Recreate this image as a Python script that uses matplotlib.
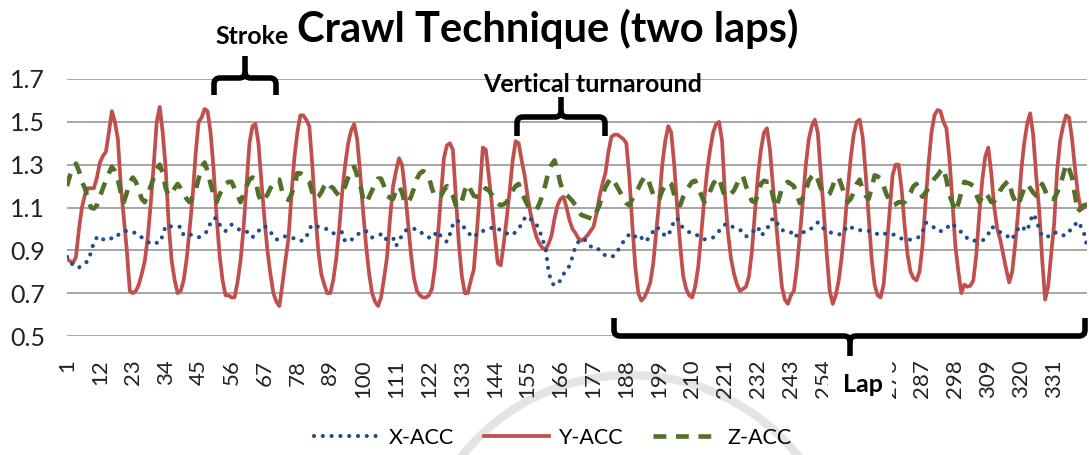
import matplotlib
matplotlib.use("Agg")
import matplotlib.pyplot as plt
from matplotlib.path import Path
from matplotlib.patches import PathPatch, Rectangle, Arc

# sample index (1..342) and tick labels
n_samples = 342
tick_labels = list(range(1, n_samples, 11))

x_acc = [
    0.87, 0.85, 0.83, 0.83, 0.82, 0.83, 0.84, 0.85, 0.89, 0.94,
    0.96, 0.945, 0.95, 0.96, 0.96, 0.955, 0.955, 0.97, 0.985, 0.99,
    0.99, 0.99, 0.985, 0.98, 0.975, 0.96, 0.95, 0.94, 0.93, 0.93,
    0.935, 0.935, 0.97, 1.015, 1.015, 1.01, 1.01, 1.01, 1.01, 0.97,
    0.97, 0.975, 0.97, 0.965, 0.96, 0.97, 0.98, 0.99, 1.03, 1.05,
    1.05, 1.02, 1.01, 0.99, 1.01, 1.02, 1.01, 1.0, 0.995, 0.99,
    0.99, 0.97, 0.96, 0.98, 0.99, 1.005, 1.015, 1.0, 0.985, 0.97,
    0.95, 0.955, 0.965, 0.965, 0.96, 0.96, 0.955, 0.945, 0.945, 0.945,
    0.96, 1.0, 1.02, 1.015, 1.01, 1.005, 1.0, 1.0, 0.99, 0.98,
    0.975, 0.98, 0.985, 0.94, 0.945, 0.95, 0.955, 0.97, 0.985, 0.99,
    0.99, 0.97, 0.96, 0.965, 0.97, 0.975, 0.95, 0.955, 0.96, 0.96,
    0.92, 0.945, 0.97, 0.99, 1.0, 1.0, 1.0, 1.0, 0.99, 0.975,
    0.97, 0.96, 0.955, 0.975, 0.99, 0.965, 0.95, 0.94, 0.975, 1.02,
    1.04, 1.035, 1.025, 1.0, 0.985, 0.97, 0.96, 0.975, 0.99, 0.99,
    0.995, 1.0, 1.005, 1.01, 1.0, 0.995, 0.99, 0.98, 0.97, 0.975,
    0.985, 1.0, 1.025, 1.05, 1.06, 1.045, 1.035, 1.02, 0.99, 0.95,
    0.91, 0.80, 0.75, 0.735, 0.745, 0.76, 0.79, 0.80, 0.83, 0.87,
    0.92, 0.94, 0.955, 0.95, 0.94, 0.92, 0.905, 0.905, 0.905, 0.89,
    0.875, 0.87, 0.87, 0.875, 0.895, 0.92, 0.94, 0.96, 0.975, 0.96,
    0.965, 0.975, 0.96, 0.94, 0.95, 0.965, 0.99, 1.01, 1.0, 0.985,
    0.965, 0.97, 1.0, 1.04, 1.05, 1.02, 1.005, 0.995, 0.985, 0.975,
    0.972, 0.97, 0.96, 0.952, 0.95, 0.955, 0.96, 0.975, 0.99, 1.01,
    1.02, 1.025, 1.015, 1.005, 1.0, 0.995, 0.985, 0.965, 0.97, 0.985,
    0.995, 1.01, 0.97, 0.98, 1.0, 1.025, 1.05, 1.04, 1.01, 0.995,
    0.99, 0.99, 0.985, 0.96, 0.97, 0.985, 0.985, 0.985, 0.99, 1.005,
    1.02, 1.03, 1.025, 1.0, 0.99, 0.985, 0.98, 0.975, 0.975, 0.975,
    0.995, 1.015, 1.01, 1.0, 1.0, 0.995, 0.99, 0.99, 0.99, 0.99,
    0.985, 0.975, 0.97, 0.975, 0.98, 0.98, 0.975, 0.97, 0.96, 0.955,
    0.955, 0.95, 0.95, 0.952, 0.955, 0.965, 0.985, 1.03, 1.025, 1.015,
    1.005, 0.99, 0.99, 0.99, 1.0, 1.02, 1.025, 1.01, 0.995, 0.985,
    0.975, 0.955, 0.945, 0.945, 0.945, 0.945, 0.945, 0.955, 0.975, 1.01,
    1.005, 0.99, 0.985, 0.975, 0.97, 0.96, 0.95, 0.985, 1.0, 1.015,
    1.0, 0.99, 1.035, 1.07, 1.045, 1.0, 0.965, 0.965, 0.965, 0.975,
    0.985, 0.98, 0.97, 0.97, 0.97, 0.985, 1.01, 1.02, 1.035, 1.01,
    0.98, 0.92,
]

y_acc = [
    0.86, 0.85, 0.84, 0.87, 1.00, 1.10, 1.16, 1.19, 1.19, 1.19,
    1.24, 1.31, 1.34, 1.36, 1.45, 1.55, 1.50, 1.42, 1.20, 1.05,
    0.90, 0.71, 0.70, 0.71, 0.74, 0.79, 0.85, 0.96, 1.12, 1.30,
    1.50, 1.57, 1.45, 1.28, 1.02, 0.85, 0.76, 0.70, 0.71, 0.76,
    0.86, 1.00, 1.15, 1.35, 1.50, 1.52, 1.56, 1.55, 1.45, 1.28,
    1.06, 0.88, 0.76, 0.69, 0.69, 0.68, 0.68, 0.75, 0.85, 1.00,
    1.20, 1.40, 1.48, 1.49, 1.40, 1.22, 1.05, 0.90, 0.79, 0.70,
    0.66, 0.64, 0.74, 0.85, 0.95, 1.15, 1.33, 1.45, 1.53, 1.53,
    1.51, 1.48, 1.30, 1.08, 0.90, 0.79, 0.74, 0.70, 0.70, 0.76,
    0.86, 1.00, 1.17, 1.30, 1.40, 1.46, 1.49, 1.42, 1.26, 1.08,
    0.92, 0.79, 0.70, 0.66, 0.64, 0.68, 0.77, 0.87, 1.05, 1.20,
    1.27, 1.33, 1.30, 1.18, 1.03, 0.88, 0.77, 0.71, 0.69, 0.68,
    0.68, 0.69, 0.72, 0.82, 0.97, 1.15, 1.33, 1.39, 1.40, 1.37,
    1.15, 0.93, 0.78, 0.70, 0.70, 0.76, 0.81, 0.98, 1.17, 1.38,
    1.37, 1.25, 1.12, 0.97, 0.84, 0.83, 0.93, 1.05, 1.18, 1.32,
    1.41, 1.40, 1.32, 1.25, 1.15, 1.07, 1.01, 0.96, 0.93, 0.91,
    0.905, 0.93, 0.97, 1.05, 1.11, 1.14, 1.15, 1.10, 1.04, 1.00,
    0.98, 0.955, 0.945, 0.955, 0.97, 0.99, 1.01, 1.07, 1.15, 1.21,
    1.26, 1.36, 1.43, 1.44, 1.44, 1.43, 1.42, 1.40, 1.24, 1.02,
    0.82, 0.70, 0.665, 0.68, 0.71, 0.75, 0.84, 0.99, 1.13, 1.30,
    1.41, 1.48, 1.45, 1.30, 1.10, 0.92, 0.78, 0.72, 0.69, 0.68,
    0.73, 0.82, 0.97, 1.13, 1.27, 1.37, 1.45, 1.49, 1.50, 1.41,
    1.15, 0.98, 0.86, 0.79, 0.74, 0.71, 0.72, 0.73, 0.78, 0.90,
    1.08, 1.25, 1.37, 1.45, 1.47, 1.37, 1.20, 1.04, 0.88, 0.73,
    0.67, 0.65, 0.69, 0.71, 0.82, 0.97, 1.13, 1.30, 1.42, 1.48,
    1.51, 1.45, 1.26, 1.08, 0.88, 0.71, 0.65, 0.69, 0.76, 0.87,
    1.01, 1.18, 1.33, 1.44, 1.50, 1.51, 1.43, 1.26, 1.06, 0.86,
    0.74, 0.69, 0.68, 0.74, 0.90, 1.08, 1.25, 1.30, 1.30, 1.19,
    1.02, 0.88, 0.80, 0.77, 0.76, 0.80, 0.92, 1.12, 1.30, 1.45,
    1.53, 1.555, 1.55, 1.50, 1.47, 1.33, 1.13, 0.92, 0.80, 0.70,
    0.74, 0.73, 0.735, 0.76, 0.88, 1.07, 1.23, 1.34, 1.38, 1.26,
    1.10, 1.00, 0.95, 0.88, 0.81, 0.75, 0.80, 0.93, 1.08, 1.27,
    1.40, 1.49, 1.54, 1.44, 1.25, 1.09, 0.86, 0.67, 0.73, 0.88,
    1.02, 1.27, 1.41, 1.48, 1.53, 1.52, 1.42, 1.28, 1.16, 1.09,
    1.10, 1.11,
]

z_acc = [
    1.20, 1.25, 1.28, 1.305, 1.27, 1.22, 1.19, 1.14, 1.10, 1.095,
    1.11, 1.15, 1.19, 1.225, 1.26, 1.29, 1.27, 1.23, 1.17, 1.125,
    1.17, 1.22, 1.24, 1.22, 1.18, 1.14, 1.125, 1.16, 1.20, 1.24,
    1.28, 1.30, 1.26, 1.19, 1.155, 1.17, 1.19, 1.21, 1.19, 1.165,
    1.14, 1.125, 1.15, 1.18, 1.235, 1.29, 1.31, 1.27, 1.21, 1.16,
    1.125, 1.16, 1.19, 1.21, 1.22, 1.22, 1.19, 1.16, 1.125, 1.16,
    1.20, 1.23, 1.24, 1.235, 1.16, 1.125, 1.14, 1.16, 1.19, 1.21,
    1.23, 1.23, 1.17, 1.15, 1.135, 1.16, 1.20, 1.26, 1.26, 1.25,
    1.235, 1.22, 1.17, 1.14, 1.15, 1.17, 1.20, 1.22, 1.20, 1.19,
    1.17, 1.155, 1.17, 1.20, 1.24, 1.28, 1.29, 1.25, 1.21, 1.14,
    1.12, 1.15, 1.18, 1.21, 1.235, 1.235, 1.20, 1.155, 1.145, 1.14,
    1.18, 1.20, 1.17, 1.12, 1.12, 1.15, 1.19, 1.235, 1.26, 1.27,
    1.26, 1.24, 1.19, 1.15, 1.15, 1.155, 1.18, 1.20, 1.18, 1.155,
    1.11, 1.10, 1.13, 1.18, 1.21, 1.18, 1.155, 1.15, 1.15, 1.17,
    1.19, 1.18, 1.16, 1.14, 1.12, 1.11, 1.115, 1.125, 1.16, 1.18,
    1.20, 1.21, 1.17, 1.14, 1.11, 1.09, 1.085, 1.09, 1.12, 1.16,
    1.21, 1.27, 1.30, 1.32, 1.27, 1.21, 1.175, 1.16, 1.145, 1.13,
    1.11, 1.08, 1.065, 1.06, 1.055, 1.05, 1.045, 1.08, 1.11, 1.16,
    1.195, 1.22, 1.24, 1.22, 1.195, 1.17, 1.14, 1.12, 1.11, 1.14,
    1.165, 1.19, 1.22, 1.24, 1.245, 1.20, 1.16, 1.135, 1.14, 1.18,
    1.20, 1.22, 1.21, 1.16, 1.12, 1.11, 1.15, 1.18, 1.20, 1.22,
    1.225, 1.19, 1.16, 1.125, 1.14, 1.175, 1.21, 1.23, 1.24, 1.19,
    1.15, 1.155, 1.165, 1.18, 1.21, 1.245, 1.245, 1.20, 1.16, 1.13,
    1.125, 1.16, 1.21, 1.225, 1.22, 1.22, 1.15, 1.10, 1.14, 1.19,
    1.21, 1.22, 1.21, 1.20, 1.16, 1.12, 1.145, 1.18, 1.225, 1.245,
    1.26, 1.23, 1.19, 1.17, 1.155, 1.165, 1.20, 1.24, 1.24, 1.20,
    1.16, 1.125, 1.14, 1.17, 1.21, 1.23, 1.18, 1.155, 1.14, 1.19,
    1.25, 1.245, 1.235, 1.20, 1.16, 1.135, 1.11, 1.115, 1.125, 1.125,
    1.125, 1.15, 1.17, 1.20, 1.21, 1.17, 1.15, 1.17, 1.19, 1.21,
    1.235, 1.25, 1.27, 1.285, 1.23, 1.16, 1.12, 1.08, 1.12, 1.17,
    1.22, 1.215, 1.21, 1.20, 1.16, 1.125, 1.15, 1.17, 1.15, 1.125,
    1.13, 1.15, 1.18, 1.20, 1.215, 1.225, 1.16, 1.13, 1.11, 1.15,
    1.19, 1.21, 1.19, 1.17, 1.155, 1.18, 1.21, 1.18, 1.14, 1.14,
    1.14, 1.17, 1.20, 1.25, 1.305, 1.28, 1.24, 1.155, 1.08, 1.10,
    1.11, 1.115,
]

W, H = 1089, 455
plt.rcParams['font.family'] = ['Lato', 'DejaVu Sans']

fig = plt.figure(figsize=(W / 100, H / 100), dpi=100)

# faint watermark arc behind everything
fig.patches.append(Arc((630, H - 590), 430, 430, theta1=20, theta2=160, lw=6,
                       color='#e4e4e4', transform=None, zorder=-5))

ax = fig.add_axes([67 / W, 1 - 336 / H, (1087 - 67) / W, (336 - 79) / H])
ax.patch.set_alpha(0)

idx = list(range(1, n_samples + 1))
ax.plot(idx, x_acc, color='#1f4e8c', lw=3.0, linestyle=(0, (0.01, 2.1)),
        dash_capstyle='round', label='X-ACC', zorder=3)
ax.plot(idx, y_acc, color='#c0504d', lw=2.7, label='Y-ACC', zorder=2,
        solid_joinstyle='round')
ax.plot(idx, z_acc, color='#52702a', lw=3.3, linestyle=(0, (2.8, 2.1)),
        dash_capstyle='butt', label='Z-ACC', zorder=3)

ax.set_xlim(1, n_samples)
ax.set_ylim(0.5, 1.7)
ax.set_yticks([0.5, 0.7, 0.9, 1.1, 1.3, 1.5, 1.7])
ax.set_yticklabels(['0.5', '0.7', '0.9', '1.1', '1.3', '1.5', '1.7'])
ax.set_xticks(tick_labels)
ax.set_xticklabels([str(t) for t in tick_labels], rotation=90)
ax.tick_params(axis='y', length=0, pad=16, labelsize=18, colors='#222222')
ax.tick_params(axis='x', length=0, pad=17, labelsize=16, colors='#222222')
ax.grid(axis='y', color='#a6a6a6', lw=1.4)
ax.set_axisbelow(True)
for s in ax.spines.values():
    s.set_visible(False)

fig.text(548, H - 29, 'Crawl Technique (two laps)', fontsize=30, fontweight='bold',
         ha='center', va='center', transform=None)
fig.text(252, H - 37, 'Stroke', fontsize=18, fontweight='bold',
         ha='center', va='center', transform=None)
fig.text(593, H - 84, 'Vertical turnaround', fontsize=18, fontweight='bold',
         ha='center', va='center', transform=None)

# white box of the "Lap" label hides the tick labels below it
fig.patches.append(Rectangle((828, H - 402), 64, 40, color='white', lw=0,
                             transform=None, zorder=2))
fig.text(863, H - 385, 'Lap', fontsize=18, fontweight='bold', zorder=3,
         ha='center', va='center', transform=None)


def brace(x0, x1, y, ends, tip, xm=None):
    # curly brace in pixel coords (top origin): bar at y, ends go to y+ends, tip to y+tip
    if xm is None:
        xm = (x0 + x1) / 2
    r = 6
    sgn_e = 1 if ends > 0 else -1
    sgn_t = 1 if tip > 0 else -1
    pts = [
        (x0, y + ends), (x0, y + sgn_e * r),
        (x0, y), (x0 + r, y),
        (xm - r, y),
        (xm, y), (xm, y + sgn_t * r),
        (xm, y + tip),
        (xm, y + sgn_t * r),
        (xm, y), (xm + r, y),
        (x1 - r, y),
        (x1, y), (x1, y + sgn_e * r),
        (x1, y + ends),
    ]
    codes = [Path.MOVETO, Path.LINETO, Path.CURVE3, Path.CURVE3, Path.LINETO,
             Path.CURVE3, Path.CURVE3, Path.LINETO, Path.MOVETO,
             Path.CURVE3, Path.CURVE3, Path.LINETO, Path.CURVE3, Path.CURVE3,
             Path.LINETO]
    verts = [(px, H - py) for px, py in pts]
    fig.patches.append(PathPatch(Path(verts, codes), fill=False, lw=4, color='black',
                                 capstyle='butt', joinstyle='round', transform=None,
                                 zorder=4))


brace(214, 276, 78, 17, -22, xm=245)
brace(517, 605, 117, 19, -20, xm=561)
brace(614, 1085, 336, -18, 20, xm=850)

fig.legend(loc='center', bbox_to_anchor=(553 / W, 1 - 438 / H), ncol=3, frameon=False,
           fontsize=15.5, handlelength=3.0, handletextpad=0.45, columnspacing=1.4)

fig.savefig('out.png', dpi=100)
